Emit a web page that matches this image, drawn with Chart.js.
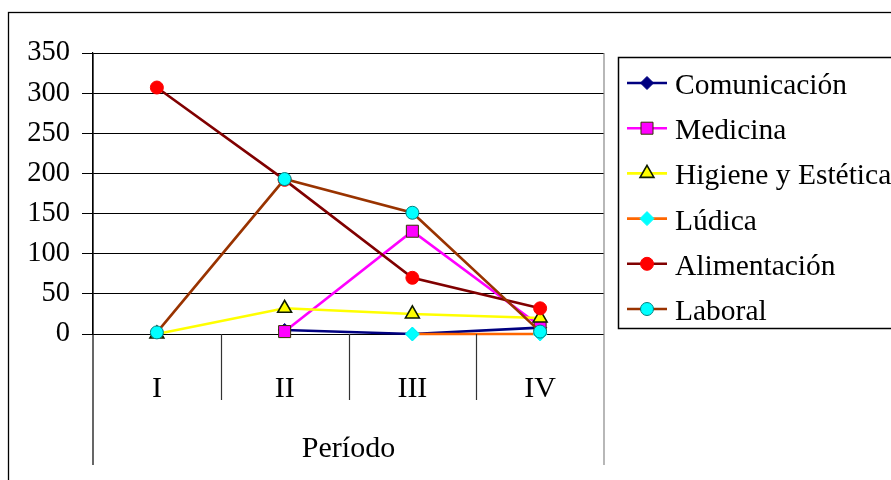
<!DOCTYPE html>
<html>
<head>
<meta charset="utf-8">
<script src="https://cdn.jsdelivr.net/npm/chart.js@4/dist/chart.umd.min.js"></script>
<style>
  body { margin: 0; background: #fff; }
  canvas { display: block; }
</style>
</head>
<body>
<canvas id="chart" width="891" height="480"></canvas>
<script>
const periods = ["I", "II", "III", "IV"];
const yTickValues = [0, 50, 100, 150, 200, 250, 300, 350];
const seriesNames = ["Comunicación", "Medicina", "Higiene y Estética", "Lúdica", "Alimentación", "Laboral"];

const comunicacion = [null, 5, 0, 8];
const medicina = [null, 3, 128, 10];
const higiene = [0, 32, 25, 20];
const ludica = [null, null, 0, 0];
const alimentacion = [307, 192, 70, 32];
const laboral = [2, 193, 151, 3];

const seriesValues = [comunicacion, medicina, higiene, ludica, alimentacion, laboral];

// line colour, marker fill, marker edge, marker shape, marker radius
const styles = [
  { line: "#000080", fill: "#000080", edge: "#000080", shape: "rectRot", r: 6.5, bw: 1 },
  { line: "#ff00ff", fill: "#ff00ff", edge: "#333300", shape: "rect", r: 8.5, bw: 1 },
  { line: "#ffff00", fill: "#ffff00", edge: "#0d1a00", shape: "triangle", r: 8, bw: 1.6 },
  { line: "#ff6600", fill: "#00ffff", edge: "#00ffff", shape: "rectRot", r: 7, bw: 1 },
  { line: "#800000", fill: "#ff0000", edge: "#ff0000", shape: "circle", r: 6.5, bw: 1 },
  { line: "#993300", fill: "#00ffff", edge: "#008080", shape: "circle", r: 6.5, bw: 1 }
];

const serif = "'Liberation Serif', 'Times New Roman', serif";
Chart.defaults.font.family = serif;
Chart.defaults.color = "#000";

const datasets = seriesNames.map((name, i) => ({
  label: name,
  data: seriesValues[i],
  borderColor: styles[i].line,
  backgroundColor: styles[i].fill,
  borderWidth: 2.6,
  pointStyle: styles[i].shape,
  pointRadius: styles[i].r,
  pointBackgroundColor: styles[i].fill,
  pointBorderColor: styles[i].edge,
  pointBorderWidth: styles[i].bw,
  tension: 0,
  spanGaps: false,
  clip: false,
  order: seriesNames.length - i
}));

/* frame, category dividers and legend box */
const decor = {
  id: "decor",
  afterDraw(chart) {
    const ctx = chart.ctx;
    const area = chart.chartArea;
    const x = chart.scales.x;
    const lowEnd = 465;
    const step = x.getPixelForValue(1) - x.getPixelForValue(0);

    ctx.save();
    // outer frame (runs off the right and bottom edge)
    ctx.strokeStyle = "#000";
    ctx.lineWidth = 1.3;
    ctx.strokeRect(8.5, 12.5, 900, 500);

    // left and right long lines
    ctx.lineWidth = 1.2;
    ctx.beginPath();
    ctx.moveTo(area.left, area.top);
    ctx.lineTo(area.left, lowEnd);
    ctx.stroke();
    ctx.strokeStyle = "#888";
    ctx.beginPath();
    ctx.moveTo(area.right, area.top);
    ctx.lineTo(area.right, lowEnd);
    ctx.stroke();

    // dividers between categories
    ctx.strokeStyle = "#333";
    for (let i = 0; i < periods.length - 1; i++) {
      const px = Math.round(x.getPixelForValue(i) + step / 2) + 0.5;
      ctx.beginPath();
      ctx.moveTo(px, area.bottom);
      ctx.lineTo(px, 400);
      ctx.stroke();
    }

    // legend
    const lx = 618, ly = 57, rowH = 45.2;
    ctx.strokeStyle = "#000";
    ctx.lineWidth = 1.5;
    ctx.strokeRect(lx + 0.5, ly + 0.5, 300, 271);
    ctx.font = "29.5px " + serif;
    ctx.textBaseline = "alphabetic";
    ctx.textAlign = "left";
    seriesNames.forEach((name, i) => {
      const cy = 83 + i * rowH;
      const st = styles[i];
      ctx.strokeStyle = st.line;
      ctx.lineWidth = 2.6;
      ctx.beginPath();
      ctx.moveTo(627, cy);
      ctx.lineTo(667, cy);
      ctx.stroke();
      ctx.fillStyle = st.fill;
      ctx.strokeStyle = st.edge;
      ctx.lineWidth = st.bw;
      Chart.helpers.drawPoint(ctx, { pointStyle: st.shape, radius: st.r, rotation: 0, borderWidth: st.bw }, 647, cy);
      ctx.fillStyle = "#000";
      ctx.fillText(name, 675, cy + 11);
    });
    ctx.restore();
  }
};

new Chart(document.getElementById("chart"), {
  type: "line",
  data: { labels: periods, datasets },
  options: {
    responsive: false,
    animation: false,
    layout: { padding: { left: 0, right: 287, top: 53, bottom: 0 } },
    plugins: { legend: { display: false }, tooltip: { enabled: false } },
    scales: {
      y: {
        min: 0,
        max: 350,
        afterBuildTicks: s => { s.ticks = yTickValues.map(v => ({ value: v })); },
        afterFit: s => { s.width = 93; },
        grid: { color: "#000", lineWidth: 1, tickLength: 11 },
        border: { color: "#000", width: 1.2 },
        ticks: { padding: 12, font: { size: 28.5 }, color: "#000" }
      },
      x: {
        offset: true,
        afterFit: s => { s.height = 146; },
        grid: { display: false },
        border: { display: false },
        ticks: { padding: 29, font: { size: 30 }, color: "#000" },
        title: { display: true, text: "Período", font: { size: 30 }, color: "#000", padding: { top: 0, bottom: 13 } }
      }
    }
  },
  plugins: [decor]
});
</script>
</body>
</html>
